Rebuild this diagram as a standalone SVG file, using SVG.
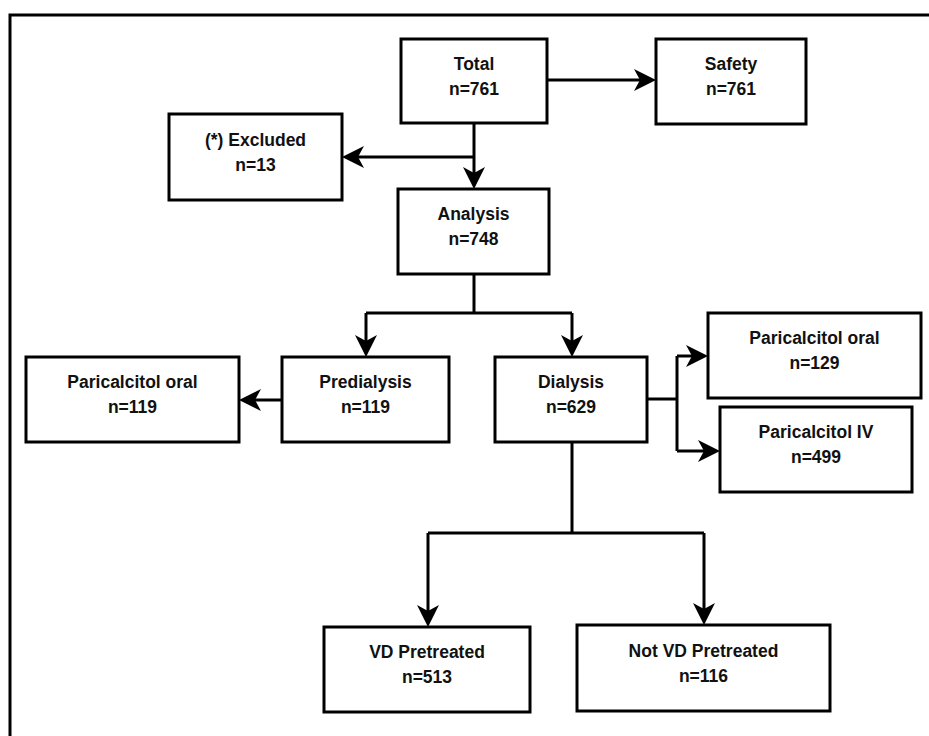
<svg xmlns="http://www.w3.org/2000/svg" width="929" height="736" viewBox="0 0 929 736">
<style>
.box{fill:#fff;stroke:#000;stroke-width:3}
.t{font-family:"Liberation Sans",Arial,sans-serif;font-weight:bold;font-size:17.5px;text-anchor:middle;fill:#111}
.c{fill:none;stroke:#000;stroke-width:3}
.a{marker-end:url(#ah)}
</style>
<defs>
<marker id="ah" markerUnits="userSpaceOnUse" markerWidth="22" markerHeight="22" viewBox="0 0 22 22" refX="16" refY="11" orient="auto">
<path d="M0,0 L22,11 L0,22 L6,11 Z" fill="#000"/>
</marker>
</defs>
<rect width="929" height="736" fill="#fff"/>
<path d="M10,736 V15 H929" fill="none" stroke="#000" stroke-width="3"/>
<g id="connectors">
<path class="c a" d="M547,80 H650"/>
<path class="c a" d="M474,123 V183"/>
<path class="c a" d="M474,157 H348"/>
<path class="c" d="M474,274 V313 M366,313 H572"/>
<path class="c a" d="M366,313 V351"/>
<path class="c a" d="M572,313 V351"/>
<path class="c a" d="M282,400 H245"/>
<path class="c" d="M647,399 H677 M677,356 V451"/>
<path class="c a" d="M677,356 H702"/>
<path class="c a" d="M677,451 H714"/>
<path class="c" d="M572,442 V533 M428,533 H704"/>
<path class="c a" d="M428,533 V621"/>
<path class="c a" d="M704,533 V619"/>
</g>
<g id="total"><rect class="box" x="401" y="39" width="146" height="84"/><text class="t" x="474" y="70">Total</text><text class="t" x="474" y="95">n=761</text></g>
<g id="safety"><rect class="box" x="656" y="39" width="150" height="85"/><text class="t" x="731" y="70">Safety</text><text class="t" x="731" y="95">n=761</text></g>
<g id="excluded"><rect class="box" x="169" y="114" width="173" height="86"/><text class="t" x="255.5" y="146">(*) Excluded</text><text class="t" x="255.5" y="171">n=13</text></g>
<g id="analysis"><rect class="box" x="398" y="189" width="151" height="85"/><text class="t" x="473.5" y="220">Analysis</text><text class="t" x="473.5" y="245">n=748</text></g>
<g id="paricalcitol-oral-left"><rect class="box" x="26" y="357" width="213" height="85"/><text class="t" x="132.5" y="388">Paricalcitol oral</text><text class="t" x="132.5" y="413">n=119</text></g>
<g id="predialysis"><rect class="box" x="282" y="357" width="167" height="85"/><text class="t" x="365.5" y="388">Predialysis</text><text class="t" x="365.5" y="413">n=119</text></g>
<g id="dialysis"><rect class="box" x="495" y="357" width="152" height="85"/><text class="t" x="571" y="388">Dialysis</text><text class="t" x="571" y="413">n=629</text></g>
<g id="paricalcitol-oral-right"><rect class="box" x="708" y="313" width="213" height="85"/><text class="t" x="814.5" y="344">Paricalcitol oral</text><text class="t" x="814.5" y="369">n=129</text></g>
<g id="paricalcitol-iv"><rect class="box" x="720" y="407" width="192" height="85"/><text class="t" x="816" y="438">Paricalcitol IV</text><text class="t" x="816" y="463">n=499</text></g>
<g id="vd-pretreated"><rect class="box" x="324" y="627" width="206" height="85"/><text class="t" x="427" y="658">VD Pretreated</text><text class="t" x="427" y="683">n=513</text></g>
<g id="not-vd-pretreated"><rect class="box" x="577" y="625" width="253" height="86"/><text class="t" x="703.5" y="657">Not VD Pretreated</text><text class="t" x="703.5" y="682">n=116</text></g>
</svg>
